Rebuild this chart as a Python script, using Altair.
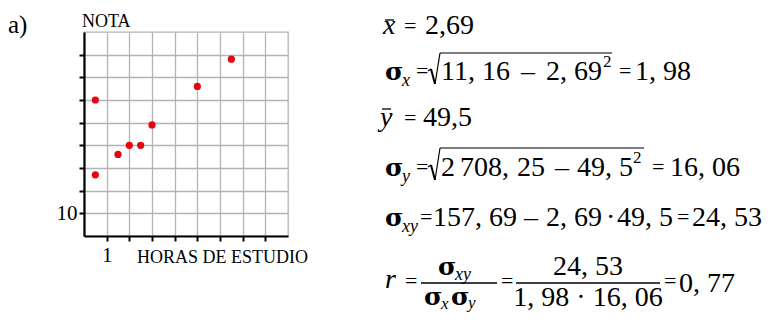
import altair as alt
import pandas as pd

# ---- data ----
horas = [0.5, 0.5, 1.5, 2, 2.5, 3, 5, 6.5]
notas = [60, 27, 36, 40, 40, 49, 66, 78]
x_ticks = [1, 2, 3, 4, 5, 6, 7, 8]
y_ticks = [10, 20, 30, 40, 50, 60, 70, 80]
x_domain = [0, 9]
y_domain = [0, 90]

df = pd.DataFrame({"horas": horas, "nota": notas})
one = pd.DataFrame({"k": [0]})

SERIF = "Liberation Serif"
GREEK = "DejaVu Serif"
GRID = "#b4b4b4"
RED = "#e30613"

# page coordinates of the plot-area origin (top-left)
OX, OY = 84, 32


def txt(s, X, Y, size=28, font=SERIF, style="normal", align="left", weight="normal"):
    return alt.Chart(one).mark_text(
        text=s, align=align, baseline="alphabetic", font=font,
        fontSize=size, fontStyle=style, fontWeight=weight, color="black"
    ).encode(x=alt.value(X - OX), y=alt.value(Y - OY))


def sig(X, Y):
    return txt("σ", X, Y, 25, font=GREEK, weight="bold")


def sub(s, X, Y, size=18):
    return txt(s, X, Y, size, style="italic")


def seg(X1, Y1, X2, Y2, w=1.3):
    return alt.Chart(one).mark_rule(strokeWidth=w, color="black").encode(
        x=alt.value(X1 - OX), y=alt.value(Y1 - OY),
        x2=alt.value(X2 - OX), y2=alt.value(Y2 - OY))


def radical(X, top, bottom, end):
    return [
        seg(X, bottom - 13, X + 3, bottom - 15, 1.2),
        seg(X + 3, bottom - 15, X + 7, bottom, 2.0),
        seg(X + 7, bottom, X + 12, top, 1.2),
        seg(X + 12, top, end, top, 1.2),
    ]


def axis(values, expr, pad):
    return alt.Axis(values=values, labelExpr=expr, title=None, grid=True,
                    gridColor=GRID, gridWidth=1.3, domainColor="black",
                    domainWidth=2.2, tickColor="black", tickWidth=2, tickSize=5,
                    labelFont=SERIF, labelFontSize=21, labelColor="black",
                    labelPadding=pad, labelFlush=False, labelOverlap=False)


points = alt.Chart(df).mark_circle(size=52, color=RED, opacity=1).encode(
    x=alt.X("horas:Q", scale=alt.Scale(domain=x_domain, nice=False, zero=False),
            axis=axis(x_ticks, "datum.value == 1 ? '1' : ''", 3)),
    y=alt.Y("nota:Q", scale=alt.Scale(domain=y_domain, nice=False, zero=False),
            axis=axis(y_ticks, "datum.value == 10 ? '10' : ''", 2)),
)

layers = [points]
# labels around the plot
layers += [
    txt("a)", 8, 33, 25),
    txt("NOTA", 82, 27, 18),
    txt("HORAS DE ESTUDIO", 137, 263, 18),
]

# line 1: x-bar
layers += [txt("x", 383, 34, 28, style="italic"), seg(385, 20, 394, 20, 1.3),
           txt("=", 404, 33, 22), txt("2,69", 425, 34, 28)]
# line 2: sigma_x
layers += [sig(385, 80), sub("x", 402, 86), txt("=", 416, 78, 22)]
layers += radical(428, 53, 84, 612)
layers += [txt("11, 16", 441, 80), txt("–", 521, 80), txt("2, 69", 546, 80),
           txt("2", 603, 67, 17), txt("=", 619, 78, 22), txt("1, 98", 635, 80)]
# line 3: y-bar
layers += [txt("y", 380, 126, 28, style="italic"), seg(382, 109, 391, 109, 1.3),
           txt("=", 404, 125, 22), txt("49,5", 423, 126, 28)]
# line 4: sigma_y
layers += [sig(385, 176), sub("y", 402, 182), txt("=", 416, 174, 22)]
layers += radical(428, 148, 180, 644)
layers += [txt("2", 441, 176), txt("708,", 460, 176), txt("25", 517, 176),
           txt("–", 555, 176), txt("49, 5", 577, 176),
           txt("2", 633, 163, 17), txt("=", 652, 174, 22), txt("16, 06", 670, 176)]
# line 5: sigma_xy
layers += [sig(385, 226), sub("xy", 402, 232),
           txt("=", 420, 224, 22), txt("157, 69", 433, 226), txt("–", 524, 226),
           txt("2, 69", 546, 226), txt("·", 606, 226), txt("49, 5", 617, 226),
           txt("=", 677, 224, 22), txt("24, 53", 692, 226)]
# line 6: r
layers += [txt("r", 385, 288, 28, style="italic"), txt("=", 405, 288, 22),
           seg(421, 283, 497, 283, 1.5),
           sig(438, 275), sub("xy", 455, 280),
           sig(424, 305), sub("x", 441, 309, 17),
           sig(451, 305), sub("y", 468, 308, 17),
           txt("=", 501, 288, 22),
           seg(516, 283, 660, 283, 1.5),
           txt("24, 53", 588, 275, align="center"),
           txt("1, 98 · 16, 06", 588, 306, align="center"),
           txt("=", 664, 288, 22), txt("0, 77", 679, 292)]

chart = alt.layer(*layers).properties(
    width=204, height=204,
    padding={"left": 76, "top": 24, "right": 475, "bottom": 76},
    autosize=alt.AutoSizeParams(type="none"),
).configure_view(stroke=GRID, strokeWidth=1.3)

chart.save("out.html", embed_options={"renderer": "svg", "actions": False})
